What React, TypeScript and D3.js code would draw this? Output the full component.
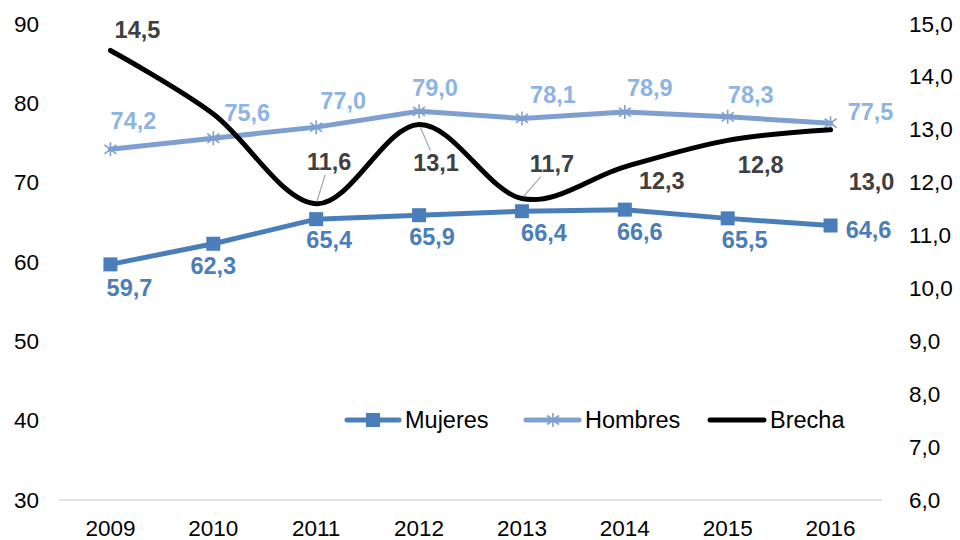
import * as d3 from "d3";
import React from "react";

// data
const years = ["2009", "2010", "2011", "2012", "2013", "2014", "2015", "2016"];
const mujeres = [59.7, 62.3, 65.4, 65.9, 66.4, 66.6, 65.5, 64.6];
const hombres = [74.2, 75.6, 77.0, 79.0, 78.1, 78.9, 78.3, 77.5];
const brecha = [14.5, 13.3, 11.6, 13.1, 11.7, 12.3, 12.8, 13.0];
const brechaShown = [true, false, true, true, true, true, true, true];
const leftTicks = [30, 40, 50, 60, 70, 80, 90];
const rightTicks = [6, 7, 8, 9, 10, 11, 12, 13, 14, 15];

// label placement (dx, dy from the point to the label centre)
const mujeresNudge = [[19, 24], [0, 22], [13, 21], [13, 22], [22, 22], [15, 22], [17, 22], [38, 4]];
const hombresNudge = [[23, -28], [34, -25], [27, -26], [16, -23], [31, -23], [25, -24], [23, -22], [40, -11]];
const brechaNudge = [[27, -20], [0, 0], [13, -42], [17, 39], [30, -35], [37, 14], [33, 25], [41, 52]];
const brechaLeader = [false, false, true, true, true, false, false, false];

const width = 960;
const height = 540;
const marginLeft = 59;
const marginRight = 78;
const marginTop = 24;
const marginBottom = 40;

const C_MUJ = "#4a7ebb";
const C_HOM = "#7f9fd0";
const C_HOM_TXT = "#8db4e2";
const C_BRE = "#000000";
const C_BRE_TXT = "#404040";
const FONT = "'Liberation Sans', Arial, sans-serif";

const fmt = (v: number) => v.toFixed(1).replace(".", ",");
const star = "M0,-7L0,7M-6,-4.5L6,4.5M-6,4.5L6,-4.5";

export default function App() {
  const x = d3
    .scaleBand()
    .domain(years)
    .range([marginLeft, width - marginRight]);
  const cx = (d: string) => (x(d) as number) + x.bandwidth() / 2;

  const y1 = d3.scaleLinear().domain([30, 90]).range([height - marginBottom, marginTop]);
  const y2 = d3.scaleLinear().domain([6, 15]).range([height - marginBottom, marginTop]);

  const lineM = d3
    .line<number>()
    .x((_, i) => cx(years[i]))
    .y((d) => y1(d));
  const lineB = d3
    .line<number>()
    .x((_, i) => cx(years[i]))
    .y((d) => y2(d))
    .curve(d3.curveCardinal.tension(0));

  const label = { fontFamily: FONT, fontSize: 23.5, fontWeight: 700 } as const;

  return (
    <svg
      width={width}
      height={height}
      style={{ position: "absolute", left: 0, top: 0, background: "#fff" }}
    >
      {/* baseline */}
      <line
        x1={marginLeft}
        x2={width - marginRight}
        y1={y1(30)}
        y2={y1(30)}
        stroke="#d9d9d9"
        strokeWidth={1.5}
      />

      {/* axes labels */}
      <g fontFamily={FONT} fontSize={22.5} fill="#000">
        {leftTicks.map((t) => (
          <text key={t} x={39} y={y1(t)} textAnchor="end" dominantBaseline="central">
            {t}
          </text>
        ))}
        {rightTicks.map((t) => (
          <text key={t} x={909} y={y2(t)} textAnchor="start" dominantBaseline="central">
            {fmt(t)}
          </text>
        ))}
        {years.map((d) => (
          <text key={d} x={cx(d)} y={528} textAnchor="middle" dominantBaseline="central">
            {d}
          </text>
        ))}
      </g>

      {/* Hombres */}
      <path
        d={lineM(hombres) ?? ""}
        fill="none"
        stroke={C_HOM}
        strokeWidth={5}
        strokeLinejoin="round"
        strokeLinecap="round"
      />
      {hombres.map((v, i) => (
        <path
          key={i}
          d={star}
          transform={`translate(${cx(years[i])},${y1(v)})`}
          stroke={C_HOM}
          strokeWidth={1.6}
          fill="none"
        />
      ))}

      {/* Mujeres */}
      <path
        d={lineM(mujeres) ?? ""}
        fill="none"
        stroke={C_MUJ}
        strokeWidth={5}
        strokeLinejoin="round"
        strokeLinecap="round"
      />
      {mujeres.map((v, i) => (
        <rect
          key={i}
          x={cx(years[i]) - 7}
          y={y1(v) - 7}
          width={14}
          height={14}
          fill={C_MUJ}
        />
      ))}

      {/* Brecha */}
      <path
        d={lineB(brecha) ?? ""}
        fill="none"
        stroke={C_BRE}
        strokeWidth={5}
        strokeLinecap="round"
      />

      {/* leader lines */}
      {brecha.map((v, i) => {
        if (!brechaLeader[i]) return null;
        const [dx, dy] = brechaNudge[i];
        const px = cx(years[i]);
        const py = y2(v);
        const t = (Math.abs(dy) - 13) / Math.abs(dy);
        return (
          <line
            key={i}
            x1={px + dx * 0.06}
            y1={py + dy * 0.06}
            x2={px + dx * t}
            y2={py + dy * t}
            stroke="#a6a6a6"
            strokeWidth={1.2}
          />
        );
      })}

      {/* data labels */}
      <g {...label} textAnchor="middle">
        {mujeres.map((v, i) => (
          <text
            key={i}
            x={cx(years[i]) + mujeresNudge[i][0]}
            y={y1(v) + mujeresNudge[i][1]}
            dominantBaseline="central"
            fill={C_MUJ}
          >
            {fmt(v)}
          </text>
        ))}
        {hombres.map((v, i) => (
          <text
            key={i}
            x={cx(years[i]) + hombresNudge[i][0]}
            y={y1(v) + hombresNudge[i][1]}
            dominantBaseline="central"
            fill={C_HOM_TXT}
          >
            {fmt(v)}
          </text>
        ))}
        {brecha.map((v, i) =>
          brechaShown[i] ? (
            <text
              key={i}
              x={cx(years[i]) + brechaNudge[i][0]}
              y={y2(v) + brechaNudge[i][1]}
              dominantBaseline="central"
              fill={C_BRE_TXT}
            >
              {fmt(v)}
            </text>
          ) : null
        )}
      </g>

      {/* legend */}
      <g fontFamily={FONT} fontSize={23.5} fill="#000">
        <line x1={347} x2={399} y1={420} y2={420} stroke={C_MUJ} strokeWidth={5} strokeLinecap="round" />
        <rect x={366} y={413} width={14} height={14} fill={C_MUJ} />
        <text x={405} y={420} dominantBaseline="central">Mujeres</text>

        <line x1={526} x2={579} y1={420} y2={420} stroke={C_HOM} strokeWidth={5} strokeLinecap="round" />
        <path d={star} transform="translate(553,420)" stroke={C_HOM} strokeWidth={1.6} fill="none" />
        <text x={585} y={420} dominantBaseline="central">Hombres</text>

        <line x1={710} x2={764} y1={420} y2={420} stroke={C_BRE} strokeWidth={5} strokeLinecap="round" />
        <text x={770} y={420} dominantBaseline="central">Brecha</text>
      </g>
    </svg>
  );
}
